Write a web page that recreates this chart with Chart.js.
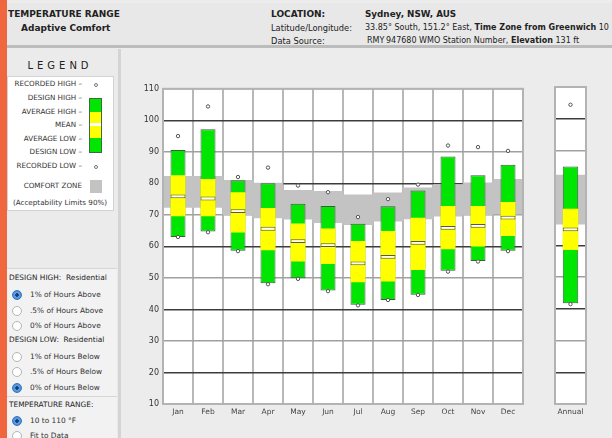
<!DOCTYPE html>
<html>
<head>
<meta charset="utf-8">
<script src="https://cdn.jsdelivr.net/npm/chart.js@4.4.1/dist/chart.umd.min.js"></script>
<style>
body { margin:0; width:612px; height:438px; overflow:hidden; background:#ececec; font-family:"DejaVu Sans", sans-serif; color:#222; position:relative; }
.a { position:absolute; white-space:nowrap; }
.strip { left:0; top:0; width:7px; height:438px; background:#f0673f; }
.head { left:7px; top:3px; width:605px; height:42px; background:#e8e8e8; border-bottom:3px solid #bcbcbc; }
.hb { font-weight:bold; font-size:9px; line-height:12px; }
.hs { font-size:8.3px; line-height:12px; }
.lpanel { left:7px; top:49px; width:111px; height:389px; background:#ebebeb; border-right:3px solid #d4d4d4; }
.legtitle { left:7px; width:106px; top:60px; text-align:center; font-size:10px; letter-spacing:4px; line-height:12px; }
.legbox { left:7px; top:76px; width:105px; height:133px; background:#fff; border:1px solid #d3d3d3; }
.lt { font-size:7.2px; line-height:10px; color:#333; text-align:right; width:76px; left:6px; }
.rp { left:7px; top:268px; width:110px; height:170px; background:#f2f2f2; border-top:1px solid #d6d6d6; }
.rt { font-size:7.4px; line-height:10px; color:#222; left:9px; }
.ri { font-size:7.4px; line-height:10px; color:#333; left:30px; }
.rad { width:8px; height:8px; border-radius:50%; border:1px solid #b5b5b5; background:#fff; left:12px; }
.rad.on { background:radial-gradient(circle, #1d3c6a 0 1.5px, #5ea2ea 2px, #3a82d6 100%); border-color:#3572b8; }
</style>
</head>
<body>
<div class="a strip"></div>
<div class="a head"></div>
<div class="a hb" style="left:8px;top:8px;">TEMPERATURE RANGE</div>
<div class="a hb" style="left:21px;top:22px;">Adaptive Comfort</div>
<div class="a hb" style="left:271px;top:8px;">LOCATION:</div>
<div class="a hb" style="left:365px;top:8px;font-size:8.8px;">Sydney, NSW, AUS</div>
<div class="a hs" style="left:271px;top:22px;">Latitude/Longitude:</div>
<div class="a hs" style="left:365px;top:22px;font-size:8px;">33.85° South, 151.2° East, <b>Time Zone from Greenwich</b> 10</div>
<div class="a hs" style="left:271px;top:35px;">Data Source:</div>
<div class="a hs" style="left:367px;top:35px;font-size:8px;">RMY</div>
<div class="a hs" style="left:386px;top:35px;font-size:8px;">947680 WMO Station Number, <b>Elevation</b> 131 ft</div>

<div class="a lpanel"></div>
<div class="a legtitle">LEGEND</div>
<div class="a legbox"></div>
<div class="a lt" style="top:79px;">RECORDED HIGH –</div>
<div class="a lt" style="top:93px;">DESIGN HIGH –</div>
<div class="a lt" style="top:107px;">AVERAGE HIGH –</div>
<div class="a lt" style="top:120px;">MEAN –</div>
<div class="a lt" style="top:134px;">AVERAGE LOW –</div>
<div class="a lt" style="top:147px;">DESIGN LOW –</div>
<div class="a lt" style="top:161px;">RECORDED LOW –</div>
<div class="a lt" style="top:181px;">COMFORT ZONE</div>
<div class="a lt" style="top:198px;left:7px;width:106px;text-align:center;">(Acceptability Limits 90%)</div>
<div class="a" style="left:94px;top:83px;width:2px;height:2px;border:1px solid #777;border-radius:50%;"></div>
<div class="a" style="left:89px;top:98px;width:11px;height:53px;border:1px solid #3d6b3d;background:linear-gradient(#00e600 0 13px,#ffff00 13px 24px,#fff 24px 27px,#ffff00 27px 39px,#00e600 39px);"></div>
<div class="a" style="left:94px;top:165px;width:2px;height:2px;border:1px solid #777;border-radius:50%;"></div>
<div class="a" style="left:90px;top:180px;width:12px;height:13px;background:#c3c3c3;"></div>

<div class="a rp"></div>
<div class="a rt" style="top:273px;">DESIGN HIGH:&nbsp; Residential</div>
<div class="a rad on" style="top:290px;"></div><div class="a ri" style="top:290px;">1% of Hours Above</div>
<div class="a rad" style="top:306px;"></div><div class="a ri" style="top:306px;">.5% of Hours Above</div>
<div class="a rad" style="top:321px;"></div><div class="a ri" style="top:321px;">0% of Hours Above</div>
<div class="a rt" style="top:335px;">DESIGN LOW:&nbsp; Residential</div>
<div class="a rad" style="top:352px;"></div><div class="a ri" style="top:352px;">1% of Hours Below</div>
<div class="a rad" style="top:367px;"></div><div class="a ri" style="top:367px;">.5% of Hours Below</div>
<div class="a rad on" style="top:383px;"></div><div class="a ri" style="top:383px;">0% of Hours Below</div>
<div class="a" style="left:7px;top:396px;width:110px;height:1px;background:#d6d6d6;"></div>
<div class="a rt" style="top:400px;">TEMPERATURE RANGE:</div>
<div class="a rad on" style="top:416px;"></div><div class="a ri" style="top:416px;">10 to 110 °F</div>
<div class="a rad" style="top:431px;"></div><div class="a ri" style="top:431px;">Fit to Data</div>

<canvas id="monthChart" class="a" style="left:128px;top:80px;" width="400" height="344"></canvas>
<canvas id="annualChart" class="a" style="left:550px;top:80px;" width="45" height="344"></canvas>

<script>
// monthly values, °F
const months = ['Jan', 'Feb', 'Mar', 'Apr', 'May', 'Jun', 'Jul', 'Aug', 'Sep', 'Oct', 'Nov', 'Dec'];
const recordedHigh = [95, 104.4, 82, 85, 79.3, 77.2, 69.3, 75, 79.6, 92, 91.5, 90.3];
const designHigh = [90.6, 97.2, 81, 80, 73.5, 72.8, 67.2, 72.7, 77.7, 88.5, 82.6, 85.9];
const averageHigh = [82.6, 81.4, 77.2, 72.2, 67.3, 65.7, 61.7, 64.9, 69.1, 72.8, 72.8, 74.1];
const meanTemp = [75.9, 75.2, 71.2, 65.6, 61.7, 60.4, 54.6, 56.7, 61.1, 65.9, 66.5, 69.1];
const averageLow = [69.6, 69.6, 64.4, 58.8, 55.2, 54.4, 48.6, 48.9, 52.5, 59.1, 60, 63.3];
const designLow = [63, 64.7, 58.6, 48.3, 49.9, 46, 41.5, 43, 44.7, 52.3, 55.4, 58.6];
const recordedLow = [63, 64.5, 58.5, 48, 49.7, 45.8, 41.3, 43, 44.6, 52, 55.2, 58.5];
const comfortLow = [72.4, 72.4, 70, 69, 68.6, 67.5, 66.9, 68, 68.7, 69.6, 70, 70.3];
const comfortHigh = [82.2, 82.2, 81, 80.1, 77.8, 77.5, 76.4, 77, 78.6, 79.6, 80.2, 81.3];

// annual column
const annualLabel = ['Annual'];
const annualRecordedHigh = [104.4];
const annualDesignHigh = [84.9];
const annualAverageHigh = [71.6];
const annualMean = [65.1];
const annualAverageLow = [58.6];
const annualDesignLow = [41.8];
const annualRecordedLow = [41.5];
const annualComfortLow = [66.7];
const annualComfortHigh = [82.2];

const yMin = 10, yMax = 110, yStep = 10;

function pairs(lo, hi) {
    return lo.map((v, i) => [v, hi[i]]);
}

const plotBox = {
    id: 'plotBox',
    beforeDraw(chart) {
        const { ctx, chartArea: a } = chart;
        ctx.save();
        ctx.fillStyle = '#fff';
        ctx.fillRect(a.left, a.top, a.width, a.height);
        ctx.restore();
    },
    afterDraw(chart) {
        const { ctx, chartArea: a } = chart;
        ctx.save();
        ctx.strokeStyle = '#b3b3b3';
        ctx.lineWidth = 2;
        ctx.strokeRect(a.left, a.top, a.width, a.height);
        ctx.restore();
    }
};

function makeChart(id, labels, d, showY, pad) {
    const bar = { grouped: false, categoryPercentage: 1, barPercentage: 0.5, borderSkipped: false };
    const dot = { type: 'line', showLine: false, pointRadius: 1.7, pointBackgroundColor: '#fff',
                  pointBorderColor: '#555', pointBorderWidth: 1, order: 0 };
    return new Chart(document.getElementById(id), {
        type: 'bar',
        data: {
            labels: labels,
            datasets: [
                Object.assign({ data: d.recHigh }, dot),
                Object.assign({ data: d.recLow }, dot),
                Object.assign({ data: d.mean.map(m => [m - 0.6, m + 0.6]), backgroundColor: '#fff',
                                borderColor: '#555', borderWidth: 1, order: 1 }, bar),
                Object.assign({ data: pairs(d.avgLow, d.avgHigh), backgroundColor: '#ffff00',
                                borderWidth: 0, order: 2 }, bar),
                Object.assign({ data: pairs(d.desLow, d.desHigh), backgroundColor: '#00e600',
                                borderColor: '#3a5e3a', borderWidth: 1, order: 3 }, bar),
                { data: pairs(d.comfLow, d.comfHigh), backgroundColor: '#c3c3c3', borderWidth: 0,
                  grouped: false, categoryPercentage: 1, barPercentage: 1, order: 4 }
            ]
        },
        options: {
            responsive: false,
            animation: false,
            layout: { padding: pad },
            plugins: { legend: { display: false }, tooltip: { enabled: false } },
            scales: {
                x: {
                    grid: { color: '#b8b8b8', lineWidth: 2, drawTicks: false, offset: true },
                    border: { display: false },
                    ticks: { color: '#444', font: { family: 'DejaVu Sans', size: 7.5 }, padding: 4 },
                    afterFit: s => { s.height = 20; }
                },
                y: {
                    min: yMin, max: yMax,
                    grid: {
                        color: c => (c.tick.value % 20 === 0 ? '#3c3c3c' : '#a0a0a0'),
                        lineWidth: 1.5, drawTicks: false
                    },
                    border: { display: false },
                    ticks: { display: showY, stepSize: yStep, color: '#333',
                             font: { family: 'DejaVu Sans', size: 8 }, padding: 4 },
                    afterFit: s => { s.width = showY ? 35 : 0; }
                }
            }
        },
        plugins: [plotBox]
    });
}

makeChart('monthChart', months, {
    recHigh: recordedHigh, desHigh: designHigh, avgHigh: averageHigh, mean: meanTemp,
    avgLow: averageLow, desLow: designLow, recLow: recordedLow,
    comfLow: comfortLow, comfHigh: comfortHigh
}, true, { top: 7, right: 3, left: 0, bottom: 0 });

makeChart('annualChart', annualLabel, {
    recHigh: annualRecordedHigh, desHigh: annualDesignHigh, avgHigh: annualAverageHigh, mean: annualMean,
    avgLow: annualAverageLow, desLow: annualDesignLow, recLow: annualRecordedLow,
    comfLow: annualComfortLow, comfHigh: annualComfortHigh
}, false, { top: 7, right: 9, left: 5, bottom: 0 });
</script>
</body>
</html>
